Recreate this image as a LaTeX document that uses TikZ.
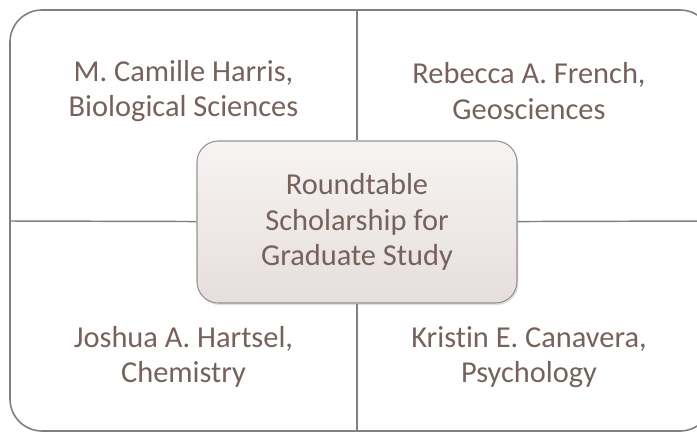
\documentclass[tikz,border=0pt]{standalone}
\usepackage{fontspec}
\setmainfont[Ligatures=NoCommon]{Carlito}
\usetikzlibrary{shadows}
\definecolor{labeltext}{RGB}{118,98,91}
\definecolor{framegray}{RGB}{128,128,128}
\definecolor{hubtop}{RGB}{247,244,243}
\definecolor{hubbottom}{RGB}{230,222,220}
\begin{document}
\begin{tikzpicture}[x=0.75pt,y=-0.75pt,
    frame/.style={draw=framegray,line width=1.2pt,rounded corners=24pt},
    divider/.style={draw=framegray,line width=1.1pt},
    quadlabel/.style={text=labeltext,align=center,font=\fontsize{22.8}{26.5}\selectfont},
    hub/.style={quadlabel,draw=framegray!85,line width=0.8pt,rounded corners=16pt,
        top color=hubtop,bottom color=hubbottom,minimum width=240pt,minimum height=121.5pt,
        drop shadow={opacity=0.25,shadow xshift=1pt,shadow yshift=-1.5pt}}]
  \useasboundingbox (0,0) rectangle (697,432);
  \draw[frame] (10,10) rectangle (712,431);

  \coordinate (top) at (357,10);
  \coordinate (bottom) at (357,431);
  \coordinate (left) at (10,221);
  \coordinate (right) at (712,221);

  \node[hub] (hub) at (357,222) {Roundtable\\Scholarship for\\Graduate Study};

  \path[divider] (top) -- (hub);
  \path[divider] (hub) -- (bottom);
  \path[divider] (left) -- (hub);
  \path[divider] (hub) -- (right);

  \node[quadlabel] (harris) at (183.5,91) {M. Camille Harris,\\Biological Sciences};
  \node[quadlabel] (french) at (529,91) {Rebecca A. French,\\Geosciences};
  \node[quadlabel] (hartsel) at (183.5,357) {Joshua A. Hartsel,\\Chemistry};
  \node[quadlabel] (canavera) at (529,357) {Kristin E. Canavera,\\Psychology};
\end{tikzpicture}
\end{document}
